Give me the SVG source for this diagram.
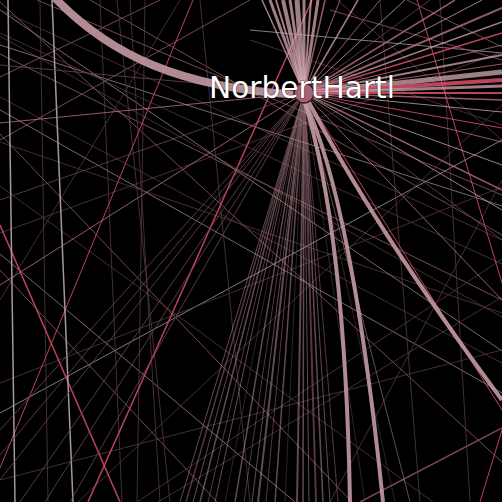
<svg xmlns="http://www.w3.org/2000/svg" width="502" height="502" viewBox="0 0 502 502">
<style>
#connectors path{fill:none}
.lp{stroke:#d4a8b0;stroke-opacity:.75}
.pk{stroke:#b8727f;stroke-opacity:.8}
.rd{stroke:#d04a64;stroke-opacity:.9}
.dk{stroke:#6a4850;stroke-opacity:.8}
.gy{stroke:#c2b2b8;stroke-opacity:.85}
.thick{stroke:#c49aa2;stroke-opacity:.9}
.w1{stroke-width:1}.w15{stroke-width:1.5}.w2{stroke-width:2}.w3{stroke-width:3}.w4{stroke-width:4}.w5{stroke-width:5}.w8{stroke-width:8}
.label{font-family:"DejaVu Sans","Noto Sans",sans-serif;font-size:30px;fill:#fff;stroke:#000;stroke-opacity:.35;stroke-width:1.5;paint-order:stroke}
</style>
<rect width="502" height="502" fill="#000"/>
<g id="connectors">
<g opacity=".8">
<path class="dk w1" d="M0 36L502 317"/>
<path class="lp w1" d="M0 110L502 393"/>
<path class="pk w1" d="M0 2L502 462"/>
<path class="dk w1" d="M0 97L502 363"/>
<path class="pk w1" d="M90 0L502 235"/>
<path class="lp w1" d="M0 45L502 206"/>
<path class="pk w1" d="M0 54L502 300"/>
<path class="dk w1" d="M0 142L502 313"/>
<path class="pk w1" d="M37 0L502 195"/>
<path class="lp w1" d="M0 10L502 351"/>
<path class="dk w1" d="M0 33L502 264"/>
<path class="pk w1" d="M160 0L0 77"/>
<path class="dk w1" d="M0 233L502 52"/>
<path class="lp w1" d="M0 254L295 502"/>
<path class="gy w1" d="M0 413L502 140"/>
<path class="dk w1" d="M0 383L502 187"/>
<path class="dk w1" d="M158 502L502 297"/>
<path class="dk w1" d="M137 502L502 259"/>
<path class="dk w1" d="M78 502L502 105"/>
<path class="pk w1" d="M0 134L352 502"/>
<path class="pk w1" d="M0 270L217 502"/>
<path class="dk w1" d="M0 186L433 502"/>
<path class="pk w15" d="M360 502L502 428"/>
<path class="dk w1" d="M130 0L160 502"/>
<path class="dk w1" d="M40 0L48 502"/>
<path class="dk w1" d="M100 0L122 502"/>
<path class="dk w1" d="M145 0L137 502"/>
<path class="dk w1" d="M117 0L170 502"/>
<path class="pk w1" d="M407 0L502 47"/>
<path class="gy w1" d="M250 30L502 53"/>
<path class="dk w1" d="M337 0L502 140"/>
<path class="pk w1" d="M330 10L502 60"/>
<path class="dk w1" d="M250 40L502 125"/>
<path class="dk w1" d="M0 300L180 0"/>
<path class="dk w1" d="M200 0L250 502"/>
<path class="dk w1" d="M440 0L470 502"/>
<path class="dk w1" d="M380 0L420 502"/>
<path class="dk w1" d="M502 180L330 502"/>
<path class="dk w1" d="M0 480L502 350"/>
<path class="pk w1" d="M250 0L0 140"/>
<path class="dk w1" d="M502 240L0 10"/>
</g>
<path class="rd w15" d="M0 225L120 502"/>
<path class="rd w1" d="M193 0L0 468"/>
<path class="rd w15" d="M312 0L88 502"/>
<path class="rd w1" d="M417 0L502 283"/>
<path class="rd w1" d="M480 502L502 430"/>
<path class="gy w15" d="M8 0L15 502"/>
<path class="gy w15" d="M52 0L73 502"/>
<path class="pk w1" d="M304 93L0 123"/>
<path class="dk w1" d="M304 93L0 65"/>
<path class="pk w1" d="M304 93L0 285"/>
<path class="dk w1" d="M304 93L0 200"/>
<path class="dk w1" d="M304 93L0 430"/>
<path class="dk w1" d="M304 93L0 455"/>
<path class="dk w1" d="M304 93L0 480"/>
<path class="dk w1" d="M304 93L20 502"/>
<path class="dk w1" d="M304 93L45 502"/>
<path class="dk w1" d="M304 93L70 502"/>
<path class="lp w15" d="M304 93L262 0"/>
<path class="lp w3" d="M304 93L270 0"/>
<path class="lp w2" d="M304 93L276 0"/>
<path class="lp w4" d="M304 93L283 0"/>
<path class="lp w3" d="M304 93L290 0"/>
<path class="lp w5" d="M304 93L297 0"/>
<path class="lp w3" d="M304 93L304 0"/>
<path class="lp w2" d="M304 93L311 0"/>
<path class="lp w3" d="M304 93L318 0"/>
<path class="pk w15" d="M304 93L325 0"/>
<path class="pk w1" d="M304 93L340 0"/>
<path class="lp w15" d="M304 93L358 0"/>
<path class="pk w1" d="M304 93L380 0"/>
<path class="lp w1" d="M304 93L405 0"/>
<path class="dk w1" d="M304 93L430 0"/>
<path class="pk w15" d="M304 93L455 0"/>
<path class="lp w1" d="M304 93L482 0"/>
<path class="pk w2" d="M304 93L502 8"/>
<path class="lp w15" d="M304 93L502 22"/>
<path class="rd w15" d="M304 93L502 33"/>
<path class="pk w1" d="M304 93L502 45"/>
<path class="lp w2" d="M304 93L502 55"/>
<path class="pk w1" d="M304 93L502 64"/>
<path class="lp w5" d="M304 93L502 72"/>
<path class="rd w4" d="M304 93L502 80" stroke-opacity=".75"/>
<path class="lp w3" d="M304 93L502 86"/>
<path class="rd w2" d="M304 93L502 93"/>
<path class="pk w15" d="M304 93L502 100"/>
<path class="lp w1" d="M304 93L502 112"/>
<path class="rd w1" d="M304 93L502 128"/>
<path class="pk w1" d="M304 93L502 142"/>
<path class="lp w1" d="M304 93L502 165"/>
<path class="pk w15" d="M304 93L502 190"/>
<path class="lp w1" d="M304 93L502 210"/>
<path class="dk w1" d="M304 93L502 240"/>
<path class="pk w1" d="M304 93L502 300"/>
<path class="rd w1" d="M304 93L502 410"/>
<g opacity=".6">
<path class="lp w1" d="M304 93L180 502"/>
<path class="pk w15" d="M304 93L186 502"/>
<path class="lp w1" d="M304 93L193 502"/>
<path class="lp w15" d="M304 93L200 502"/>
<path class="pk w1" d="M304 93L208 502"/>
<path class="lp w1" d="M304 93L215 502"/>
<path class="dk w1" d="M304 93L225 502"/>
<path class="lp w15" d="M304 93L235 502"/>
<path class="pk w1" d="M304 93L244 502"/>
<path class="lp w1" d="M304 93L252 502"/>
<path class="lp w2" d="M304 93L258 502"/>
<path class="pk w1" d="M304 93L266 502"/>
<path class="lp w15" d="M304 93L275 502"/>
<path class="dk w1" d="M304 93L285 502"/>
<path class="lp w2" d="M304 93L297 502"/>
<path class="lp w15" d="M304 93L303 502"/>
<path class="lp w1" d="M304 93L309 502"/>
<path class="pk w2" d="M304 93L316 502"/>
<path class="lp w15" d="M304 93L323 502"/>
<path class="lp w1" d="M304 93L330 502"/>
<path class="pk w1" d="M304 93L338 502"/>
<path class="dk w1" d="M304 93L365 502"/>
<path class="dk w1" d="M304 93L395 502"/>
<path class="lp w1" d="M304 93L410 502"/>
</g>
<path class="thick w4" d="M304 93Q372 225 502 400"/>
<path class="thick w4" d="M304 100Q345 230 350 502"/>
<path class="thick w4" d="M304 100Q352 200 383 502"/>
<path class="thick w8" d="M55 -2C110 55 180 88 300 95"/>
</g>
<g id="node-NorbertHartl">
<circle cx="304" cy="93" r="10" fill="#a86272" stroke="#3a1a22" stroke-width="1.5"/>
<text class="label" x="209" y="98" textLength="186" lengthAdjust="spacingAndGlyphs">NorbertHartl</text>
</g>
</svg>
